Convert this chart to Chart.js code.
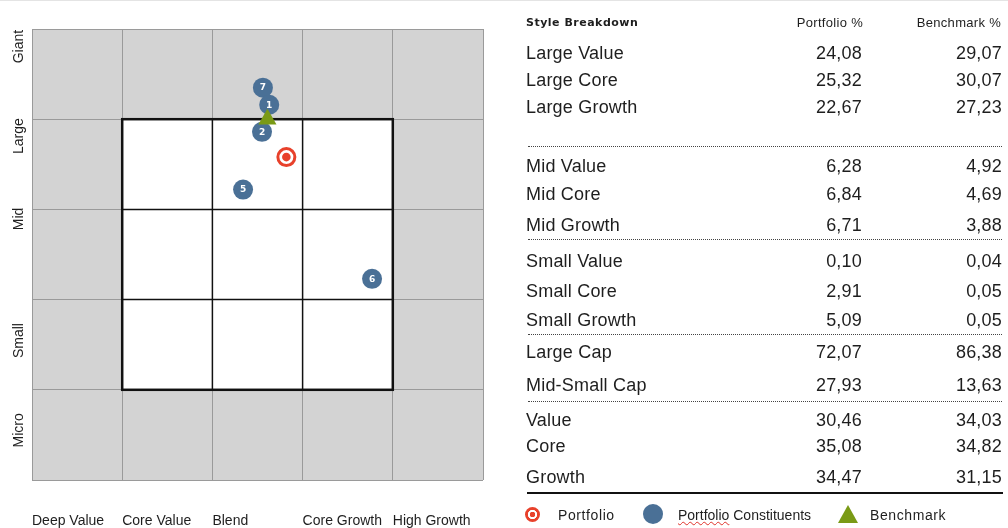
<!DOCTYPE html>
<html>
<head>
<meta charset="utf-8">
<script src="https://cdn.jsdelivr.net/npm/chart.js@4/dist/chart.umd.min.js"></script>
<style>
  html, body { margin: 0; padding: 0; background: #fff; }
  body { width: 1008px; height: 528px; position: relative; overflow: hidden; font-family: "Liberation Sans", Arial, sans-serif; color: #1e1e1e; }
  #topline { position: absolute; left: 0; top: 0; width: 1008px; height: 1px; background: #e4e4e4; }
  #chartBox { position: absolute; left: 0; top: 0; width: 500px; height: 528px; }
  #table { position: absolute; left: 0; top: 0; width: 1008px; height: 528px; }
  .hdr { position: absolute; font-size: 13px; line-height: 16px; letter-spacing: 0.3px; white-space: nowrap; }
  .hdr.title { font-family: "DejaVu Sans", sans-serif; font-weight: bold; font-size: 11px; letter-spacing: 0.5px; }
  .cell { position: absolute; font-size: 18px; line-height: 22px; white-space: nowrap; letter-spacing: 0.2px; }
  .sep { position: absolute; left: 528px; width: 474px; height: 0; border-top: 1px dotted #444; }
  .solid { position: absolute; left: 527px; width: 476px; height: 0; border-top: 2px solid #111; }
  .leg { position: absolute; font-size: 14px; line-height: 18px; white-space: nowrap; }
  .leg.wide { letter-spacing: 0.6px; }
  .wavy { text-decoration: underline wavy #e0322a; text-decoration-thickness: 1px; }
  .icoTarget { position: absolute; width: 15px; height: 15px; border-radius: 50%;
    background: radial-gradient(circle, #e8412b 0 2.6px, #fff 3px 4.4px, #e8412b 4.8px); }
  .icoDot { position: absolute; width: 20px; height: 20px; border-radius: 50%; background: #4a7096; }
  .icoTri { position: absolute; width: 0; height: 0; border-left: 10px solid transparent; border-right: 10px solid transparent; border-bottom: 18px solid #7a9a16; }
</style>
</head>
<body>
<div id="topline"></div>
<div id="chartBox"><canvas id="c" width="500" height="528"></canvas></div>
<div id="table"></div>
<script>
// ---------- DATA ----------
const styleLabels = ['Deep Value', 'Core Value', 'Blend', 'Core Growth', 'High Growth'];
const sizeLabels = ['Giant', 'Large', 'Mid', 'Small', 'Micro'];
// where each size label starts (value units on the size axis, label reads downward from here)
const sizeLabelAt = [4.99, 4.01, 3.02, 1.74, 0.74];

const constituentIds = ['7', '1', '2', '5', '6'];
const constituentStyle = [2.56, 2.63, 2.55, 2.34, 3.77];
const constituentSize = [4.35, 4.16, 3.86, 3.22, 2.23];
const portfolioStyle = [2.82];
const portfolioSize = [3.58];
const benchmarkStyle = [2.61];
const benchmarkSize = [4.00];

const breakdownHeader = ['Style Breakdown', 'Portfolio %', 'Benchmark %'];
const rowLabels = ['Large Value', 'Large Core', 'Large Growth',
  'Mid Value', 'Mid Core', 'Mid Growth',
  'Small Value', 'Small Core', 'Small Growth',
  'Large Cap', 'Mid-Small Cap',
  'Value', 'Core', 'Growth'];
const portfolioPct = [24.08, 25.32, 22.67, 6.28, 6.84, 6.71, 0.10, 2.91, 5.09, 72.07, 27.93, 30.46, 35.08, 34.47];
const benchmarkPct = [29.07, 30.07, 27.23, 4.92, 4.69, 3.88, 0.04, 0.05, 0.05, 86.38, 13.63, 34.03, 34.82, 31.15];
const legendLabels = ['Portfolio', 'Portfolio Constituents', 'Benchmark'];

// ---------- LAYOUT (table) ----------
const rowCenterY = [53, 80, 107, 166, 194, 225, 261, 291, 320, 352, 385, 420, 446, 477];
const dottedY = [146, 239, 334, 401];
const solidY = 492;

// ---------- COLOURS ----------
const BLUE = '#4a7096', RED = '#e8412b', GREEN = '#7a9a16';

// ---------- TABLE ----------
const fmt = v => v.toFixed(2).replace('.', ',');
const tb = document.getElementById('table');
function add(cls, text, style) {
  const d = document.createElement('div');
  d.className = cls;
  if (text !== null) d.textContent = text;
  Object.assign(d.style, style);
  tb.appendChild(d);
  return d;
}
add('hdr title', breakdownHeader[0], { left: '526px', top: '15px' });
add('hdr', breakdownHeader[1], { right: (1008 - 863) + 'px', top: '15px' });
add('hdr', breakdownHeader[2], { right: (1008 - 1001) + 'px', top: '15px' });
rowLabels.forEach((lab, i) => {
  const top = (rowCenterY[i] - 11) + 'px';
  add('cell', lab, { left: '526px', top });
  add('cell', fmt(portfolioPct[i]), { right: (1008 - 862) + 'px', top });
  add('cell', fmt(benchmarkPct[i]), { right: (1008 - 1002) + 'px', top });
});
dottedY.forEach(y => add('sep', null, { top: y + 'px' }));
add('solid', null, { top: solidY + 'px' });

// legend
add('icoTarget', null, { left: '525px', top: '507px' });
add('leg wide', legendLabels[0], { left: '558px', top: '506px' });
add('icoDot', null, { left: '643px', top: '504px' });
const l2 = add('leg', null, { left: '678px', top: '506px' });
const words = legendLabels[1].split(' ');
l2.innerHTML = '<span class="wavy">' + words[0] + '</span> ' + words.slice(1).join(' ');
add('icoTri', null, { left: '838px', top: '505px' });
add('leg wide', legendLabels[2], { left: '870px', top: '506px' });

// ---------- CHART ----------
const boxPlugin = {
  id: 'styleBox',
  beforeDraw(chart) {
    const { ctx, chartArea: a, scales: { x, y } } = chart;
    ctx.save();
    ctx.fillStyle = '#d3d3d3';
    ctx.fillRect(a.left, a.top, a.right - a.left, a.bottom - a.top);
    ctx.fillStyle = '#ffffff';
    const x1 = x.getPixelForValue(1), x4 = x.getPixelForValue(4);
    const y4 = y.getPixelForValue(4), y1 = y.getPixelForValue(1);
    ctx.fillRect(x1, y4, x4 - x1, y1 - y4);
    ctx.restore();
  },
  beforeDatasetsDraw(chart) {
    const { ctx, scales: { x, y } } = chart;
    const x1 = x.getPixelForValue(1), x4 = x.getPixelForValue(4);
    const y4 = y.getPixelForValue(4), y1 = y.getPixelForValue(1);
    ctx.save();
    ctx.strokeStyle = '#111';
    ctx.lineCap = 'square';
    for (let v = 2; v <= 3; v++) {
      ctx.lineWidth = 1.5;
      const px = x.getPixelForValue(v), py = y.getPixelForValue(v);
      ctx.beginPath(); ctx.moveTo(px, y4); ctx.lineTo(px, y1); ctx.stroke();
      ctx.beginPath(); ctx.moveTo(x1, py); ctx.lineTo(x4, py); ctx.stroke();
    }
    ctx.lineWidth = 2.5;
    ctx.strokeRect(x1, y4, x4 - x1, y1 - y4);
    ctx.restore();
  },
  afterDatasetsDraw(chart) {
    const { ctx } = chart;
    ctx.save();
    const meta = chart.getDatasetMeta(2);
    ctx.fillStyle = '#ffffff';
    ctx.font = 'bold 9px "DejaVu Sans", sans-serif';
    ctx.textAlign = 'center';
    ctx.textBaseline = 'middle';
    meta.data.forEach((el, i) => ctx.fillText(constituentIds[i], el.x, el.y + 0.5));
    const pm = chart.getDatasetMeta(1);
    pm.data.forEach(el => {
      ctx.fillStyle = RED;
      ctx.beginPath(); ctx.arc(el.x, el.y, 4.3, 0, Math.PI * 2); ctx.fill();
    });
    ctx.restore();
  }
};

const ctx = document.getElementById('c').getContext('2d');
new Chart(ctx, {
  type: 'scatter',
  data: {
    datasets: [
      { label: legendLabels[2], data: benchmarkStyle.map((v, i) => ({ x: v, y: benchmarkSize[i] })),
        pointStyle: 'triangle', pointRadius: 10.5, backgroundColor: GREEN, borderColor: GREEN, borderWidth: 0 },
      { label: legendLabels[0], data: portfolioStyle.map((v, i) => ({ x: v, y: portfolioSize[i] })),
        pointStyle: 'circle', pointRadius: 8.5, backgroundColor: '#ffffff', borderColor: RED, borderWidth: 3 },
      { label: legendLabels[1], data: constituentStyle.map((v, i) => ({ x: v, y: constituentSize[i] })),
        pointStyle: 'circle', pointRadius: 10, backgroundColor: BLUE, borderColor: BLUE, borderWidth: 0 }
    ]
  },
  options: {
    responsive: false,
    animation: false,
    devicePixelRatio: 1,
    events: [],
    layout: { padding: { top: 29, right: 17, bottom: 0, left: 0 } },
    plugins: { legend: { display: false }, tooltip: { enabled: false } },
    scales: {
      x: {
        type: 'linear', min: 0, max: 5, position: 'bottom',
        border: { display: false },
        grid: { color: '#9a9a9a', lineWidth: 1, drawTicks: false },
        ticks: {
          stepSize: 1, autoSkip: false, maxRotation: 0, minRotation: 0, align: 'start', padding: 33,
          color: '#1e1e1e', font: { family: '"Liberation Sans", Arial, sans-serif', size: 14 },
          callback: (v, i) => styleLabels[i] ?? ''
        },
        afterFit: s => { s.height = 48; s.paddingLeft = 0; s.paddingRight = 0; }
      },
      y: {
        type: 'linear', min: 0, max: 5, position: 'left',
        border: { display: false },
        grid: { color: '#9a9a9a', lineWidth: 1, drawTicks: false },
        ticks: { stepSize: 1, display: false },
        afterFit: s => { s.width = 0; s.paddingTop = 0; s.paddingBottom = 0; }
      },
      ySize: {
        type: 'linear', min: 0, max: 5, position: 'left',
        border: { display: false },
        grid: { display: false, drawTicks: false },
        afterBuildTicks: s => { s.ticks = sizeLabelAt.map(v => ({ value: v })); },
        ticks: {
          autoSkip: false, minRotation: 90, maxRotation: 90, padding: 13, crossAlign: 'near',
          color: '#1e1e1e', font: { family: '"Liberation Sans", Arial, sans-serif', size: 14 },
          callback: (v, i) => sizeLabels[i]
        },
        afterFit: s => { s.width = 32; s.paddingTop = 0; s.paddingBottom = 0; }
      }
    }
  },
  plugins: [boxPlugin]
});
</script>
</body>
</html>
